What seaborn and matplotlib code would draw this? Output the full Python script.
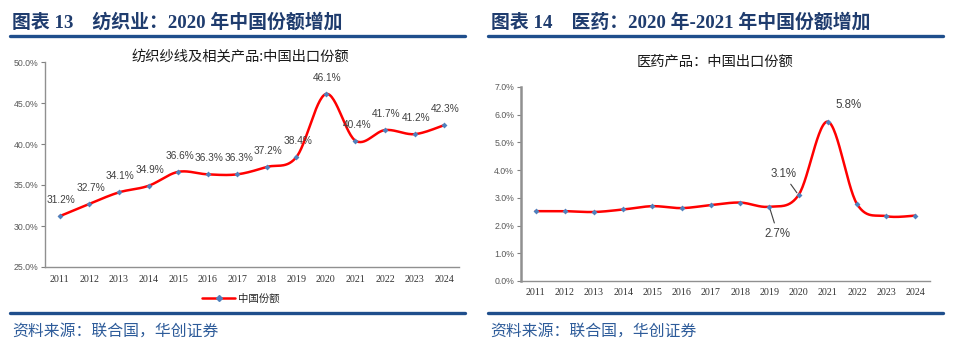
import numpy as np
import pandas as pd
import matplotlib
matplotlib.use("Agg")
import matplotlib.pyplot as plt
import seaborn as sns
from matplotlib.lines import Line2D

sns.set_theme(style="white")
plt.rcParams['font.family'] = ['Noto Sans CJK SC', 'DejaVu Sans']

# ---------------- data ----------------
years = ["2011", "2012", "2013", "2014", "2015", "2016", "2017",
         "2018", "2019", "2020", "2021", "2022", "2023", "2024"]
textile_share = [31.2, 32.7, 34.1, 34.9, 36.6, 36.3, 36.3,
                 37.2, 38.4, 46.1, 40.4, 41.7, 41.2, 42.3]
pharma_share = [2.52, 2.52, 2.49, 2.58, 2.70, 2.63, 2.74,
                2.83, 2.68, 3.10, 5.75, 2.78, 2.34, 2.36]
pharma_labels = {8: "2.7%", 9: "3.1%", 10: "5.8%"}

header_left = "图表 13    纺织业：2020 年中国份额增加"
header_right = "图表 14    医药：2020 年-2021 年中国份额增加"
title_left = "纺织纱线及相关产品:中国出口份额"
title_right = "医药产品：中国出口份额"
legend_label = "中国份额"
source = "资料来源：联合国，华创证券"

NAVY = "#1F3C6E"
LINE_BLUE = "#1F4E8C"
RED = "#FF0000"
MARK = "#4F81BD"


def smooth(xs, ys, n=30):
    """Catmull-Rom style smoothing (as in Excel smoothed lines) for drawing."""
    xs = np.asarray(xs, float)
    ys = np.asarray(ys, float)
    P = np.column_stack([xs, ys])
    out = []
    for i in range(len(P) - 1):
        p0 = P[i - 1] if i > 0 else P[i]
        p1 = P[i]
        p2 = P[i + 1]
        p3 = P[i + 2] if i + 2 < len(P) else P[i + 1]
        c1 = p1 + (p2 - p0) / 6.0
        c2 = p2 - (p3 - p1) / 6.0
        t = np.linspace(0, 1, n, endpoint=(i == len(P) - 2))[:, None]
        seg = ((1 - t) ** 3) * p1 + 3 * ((1 - t) ** 2) * t * c1 + 3 * (1 - t) * t ** 2 * c2 + t ** 3 * p2
        out.append(seg)
    out = np.vstack(out)
    return out[:, 0], out[:, 1]


W, H = 960, 345
fig = plt.figure(figsize=(W / 100, H / 100), dpi=100)
fig.patch.set_facecolor("white")


def fx(px):
    return px / W


def fy(py):
    return 1 - py / H


def style_axes(ax, ymin, ymax, step, spine_w, xpad):
    n = len(years)
    ax.set_xlim(-0.5, n - 0.5)
    ax.set_ylim(ymin, ymax)
    ax.set_yticks(np.arange(ymin, ymax + step / 2, step))
    ax.set_yticklabels([f"{v:.1f}%" for v in np.arange(ymin, ymax + step / 2, step)],
                       fontsize=6.3, color="#595959", family="Liberation Sans")
    ax.set_xticks(range(n))
    ax.set_xticklabels(years, fontsize=7.2, color="#333333", family="Liberation Serif")
    ax.set_xticks(np.arange(-0.5, n, 1), minor=True)
    ax.tick_params(axis="x", which="major", length=0, pad=xpad)
    ax.tick_params(axis="x", which="minor", length=3, width=0.8, color="#808080", direction="out")
    ax.tick_params(axis="y", length=3, width=0.8, color="#808080", direction="out", pad=2, left=True)
    for s in ["top", "right"]:
        ax.spines[s].set_visible(False)
    ax.spines["left"].set_color("#909090")
    ax.spines["left"].set_linewidth(spine_w)
    ax.spines["bottom"].set_color("#909090")
    ax.spines["bottom"].set_linewidth(1.0)
    ax.grid(False)
    ax.set_facecolor("white")
    ax.set_xlabel("")
    ax.set_ylabel("")


def draw_series(ax, vals):
    xs = np.arange(len(vals))
    sx, sy = smooth(xs, vals)
    sns.lineplot(x=sx, y=sy, ax=ax, color=RED, linewidth=1.8, sort=False, estimator=None)
    sns.scatterplot(x=xs, y=vals, ax=ax, marker="D", color=MARK, s=9, linewidth=0, zorder=5)


# ---------------- left panel ----------------
axL = fig.add_axes([fx(45), fy(267), fx(459) - fx(45), fy(62) - fy(267)])
draw_series(axL, textile_share)
style_axes(axL, 25.0, 50.0, 5.0, 1.0, 6)
for i, v in enumerate(textile_share):
    axL.annotate(f"{v:.1f}%", (i, v), xytext=(1, 8), textcoords="offset points",
                 ha="center", va="bottom", fontsize=7.3, color="#404040",
                 family="Liberation Sans")
handle = Line2D([0], [0], color=RED, lw=1.8, marker="D", markersize=3,
                markerfacecolor=MARK, markeredgecolor=MARK)
fig.legend([handle], [legend_label], loc="center", bbox_to_anchor=(fx(241), fy(299)),
           frameon=False, fontsize=7.5, handlelength=3.2, handletextpad=0.3)

# ---------------- right panel ----------------
axR = fig.add_axes([fx(521), fy(281), fx(930) - fx(521), fy(87) - fy(281)])
draw_series(axR, pharma_share)
style_axes(axR, 0.0, 7.0, 1.0, 1.8, 5)
offsets = {8: (6, -15), 9: (-11, 11), 10: (15, 8)}
for i, txt in pharma_labels.items():
    dx, dy = offsets[i]
    v = pharma_share[i]
    if i == 10:
        axR.annotate(txt, (i, v), xytext=(dx, dy), textcoords="offset points",
                     ha="center", va="bottom", fontsize=8.3, color="#404040",
                     family="Liberation Sans")
    else:
        axR.annotate(txt, (i, v), xytext=(dx, dy), textcoords="offset points",
                     ha="center", va="bottom" if dy > 0 else "top", fontsize=8.3,
                     color="#404040", family="Liberation Sans",
                     arrowprops=dict(arrowstyle="-", color="#404040", lw=0.8,
                                     shrinkA=1, shrinkB=2))

# ---------------- titles, headers, rules, source ----------------
fig.text(fx(240), fy(57), title_left, ha="center", va="center", fontsize=10.3, color="#1a1a1a")
fig.text(fx(715), fy(62), title_right, ha="center", va="center", fontsize=10.3, color="#1a1a1a")

hdr_family = ['Liberation Serif', 'Noto Sans CJK SC', 'DejaVu Sans']
fig.text(fx(12), fy(22), header_left, ha="left", va="center", fontsize=13.6,
         fontweight="bold", color=NAVY, family=hdr_family)
fig.text(fx(491), fy(22), header_right, ha="left", va="center", fontsize=13.6,
         fontweight="bold", color=NAVY, family=hdr_family)

for x0, x1 in [(10, 465), (488, 943)]:
    for yy in (36, 313):
        fig.add_artist(Line2D([fx(x0), fx(x1)], [fy(yy), fy(yy)], color=LINE_BLUE,
                              lw=2.4, transform=fig.transFigure))

fig.text(fx(12), fy(331), source, ha="left", va="center", fontsize=11.4, color="#2E5C9A")
fig.text(fx(490), fy(331), source, ha="left", va="center", fontsize=11.4, color="#2E5C9A")

fig.savefig("out.png", dpi=100, facecolor="white")
